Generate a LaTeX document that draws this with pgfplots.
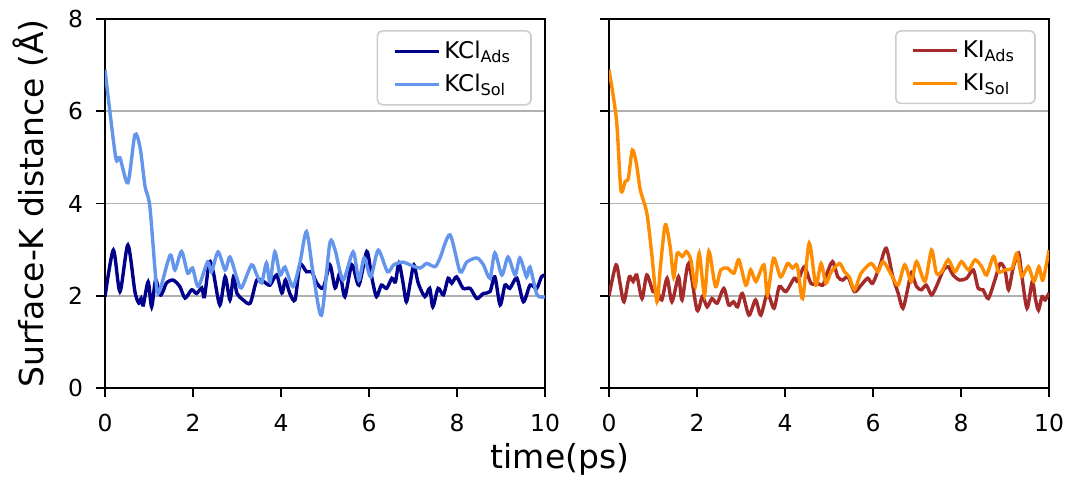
\documentclass[border=0pt]{standalone}
\usepackage{fontspec}
\setmainfont{DejaVu Sans}
\usepackage{pgfplots}
\pgfplotsset{compat=1.18}
\definecolor{kclads}{HTML}{00008B}
\definecolor{kclsol}{HTML}{6495ED}
\definecolor{kiads}{HTML}{A52A2A}
\definecolor{kisol}{HTML}{FF8C00}
\definecolor{gridgray}{HTML}{B0B0B0}
\definecolor{legframe}{HTML}{CCCCCC}

\pgfplotstableread{
t y
0 6.9
0.24 5.02
0.34 4.99
0.52 4.45
0.68 5.49
0.8 5.2
0.91 4.37
1.02 3.93
1.17 2.2
1.25 2.13
1.48 2.88
1.59 2.56
1.74 2.96
1.88 2.49
1.99 2.6
2.12 2.2
2.33 2.73
2.42 2.52
2.57 2.95
2.73 2.56
2.84 2.84
2.99 2.41
3.1 2.17
3.33 2.67
3.45 2.45
3.56 2.28
3.67 2.71
3.75 2.3
3.86 2.95
3.98 2.45
4.09 2.62
4.27 2.2
4.43 2.71
4.58 3.39
4.73 2.49
4.92 1.58
5.11 3.14
5.23 2.99
5.41 2.34
5.64 2.95
5.77 2.34
5.89 2.82
6.04 2.41
6.21 2.99
6.42 2.52
6.56 2.67
6.77 2.73
6.93 2.67
7.16 2.6
7.31 2.7
7.5 2.63
7.61 2.81
7.84 3.32
8.07 2.52
8.22 2.73
8.45 2.82
8.6 2.67
8.75 2.38
8.86 2.93
9.02 2.45
9.16 2.84
9.32 2.45
9.43 2.82
9.58 2.41
9.66 2.62
9.82 2.02
10 1.98
}\kclsoltab

\pgfplotstableread{
t y
0 1.98
0.19 2.99
0.34 2.09
0.52 3.1
0.68 2.09
0.77 1.84
0.82 1.94
0.87 1.8
0.98 2.3
1.06 1.76
1.15 2.34
1.25 2.02
1.32 2.1
1.4 2.28
1.55 2.34
1.7 2.2
1.82 1.95
1.97 2.13
2.08 2.05
2.2 2.17
2.26 1.98
2.37 2.73
2.46 2.52
2.61 1.8
2.73 2.41
2.84 1.91
2.92 2.41
3.0 2.05
3.14 1.91
3.3 1.84
3.45 2.34
3.6 2.31
3.75 2.23
3.9 2.45
4.02 2.06
4.1 2.34
4.2 2.05
4.32 1.91
4.43 2.67
4.58 2.52
4.7 2.52
4.81 2.28
4.96 2.17
5.11 2.67
5.23 2.17
5.34 2.49
5.45 1.98
5.61 2.67
5.77 2.23
5.95 2.96
6.06 2.41
6.17 1.98
6.28 2.23
6.4 2.16
6.52 2.38
6.6 2.3
6.68 2.71
6.77 2.3
6.85 1.87
6.94 2.3
7.02 2.67
7.12 2.27
7.27 1.98
7.38 2.16
7.45 1.76
7.57 2.16
7.69 2.02
7.8 2.38
7.88 2.27
7.99 2.41
8.14 2.16
8.3 2.16
8.45 1.94
8.6 2.05
8.75 2.09
8.86 2.41
8.98 1.8
9.09 2.23
9.2 2.16
9.36 2.38
9.51 1.87
9.66 2.23
9.81 2.16
9.92 2.41
10 2.45
}\kcladstab

\pgfplotstableread{
t y
0 6.9
0.17 5.81
0.27 4.3
0.37 4.48
0.44 4.55
0.53 5.16
0.62 4.88
0.71 4.3
0.86 3.79
0.97 2.92
1.09 1.87
1.17 2.65
1.28 3.54
1.39 3.06
1.47 2.4
1.55 2.92
1.67 2.85
1.76 2.96
1.86 2.78
1.96 2.2
2.05 2.92
2.17 2.02
2.27 2.96
2.42 2.2
2.54 2.56
2.69 2.6
2.84 2.49
2.95 2.78
3.11 2.23
3.22 2.56
3.34 2.31
3.52 2.67
3.6 2.02
3.74 2.81
3.9 2.41
4.06 2.7
4.17 2.6
4.28 2.65
4.4 1.94
4.55 3.14
4.7 2.23
4.82 2.7
4.93 2.27
5.05 2.52
5.24 2.7
5.35 2.52
5.46 2.41
5.58 2.13
5.73 2.49
5.96 2.7
6.11 2.52
6.23 2.74
6.42 2.45
6.57 2.23
6.72 2.67
6.87 2.31
6.99 2.74
7.18 2.31
7.33 2.99
7.44 2.49
7.56 2.52
7.71 2.78
7.86 2.52
8.01 2.74
8.17 2.56
8.32 2.78
8.47 2.63
8.58 2.45
8.74 2.85
8.85 2.52
9.0 2.56
9.16 2.6
9.27 2.92
9.38 2.42
9.53 2.63
9.66 2.31
9.77 2.63
9.86 2.34
10 2.99
}\kisoltab

\pgfplotstableread{
t y
0 2.0
0.16 2.67
0.25 2.27
0.34 1.87
0.46 2.41
0.55 2.31
0.63 2.45
0.75 1.94
0.86 2.45
1.0 2.09
1.1 2.09
1.2 1.91
1.32 2.38
1.43 1.87
1.58 2.41
1.66 1.91
1.81 2.7
2.0 1.69
2.12 1.98
2.23 1.76
2.34 1.94
2.46 1.84
2.61 2.16
2.72 1.8
2.83 1.87
2.92 1.76
3.03 2.05
3.18 1.58
3.33 1.91
3.45 1.58
3.6 2.05
3.75 1.73
3.87 2.2
4.02 2.09
4.21 2.38
4.29 2.31
4.44 2.63
4.59 2.27
4.74 2.27
4.86 2.23
4.94 2.45
5.08 2.74
5.2 2.41
5.31 2.34
5.43 2.41
5.58 2.09
5.73 2.23
5.88 2.38
5.99 2.27
6.15 2.63
6.3 3.03
6.45 2.41
6.57 2.06
6.68 1.73
6.8 2.2
6.87 2.49
6.99 2.2
7.1 2.13
7.21 2.23
7.33 2.02
7.44 2.2
7.6 2.56
7.71 2.63
7.82 2.45
7.97 2.34
8.13 2.38
8.28 2.56
8.39 2.16
8.5 2.13
8.62 1.94
8.77 2.34
8.89 2.7
9.0 2.56
9.08 2.13
9.19 2.63
9.31 2.92
9.38 2.45
9.5 1.73
9.62 2.31
9.69 1.94
9.76 1.69
9.84 1.98
9.91 1.91
10 2.06
}\kiadstab

\pgfplotsset{
  panel/.style={
    scale only axis,
    width=220pt, height=184.5pt,
    xmin=0, xmax=10, ymin=0, ymax=8,
    xtick={0,2,4,6,8,10}, ytick={0,2,4,6,8},
    tick align=outside,
    major tick length=4.5pt,
    xtick pos=bottom, ytick pos=left,
    axis line style={line width=0.9pt},
    every tick/.style={black, line width=0.9pt},
    ymajorgrids,
    major grid style={gridgray, line width=0.9pt},
    ticklabel style={font=\fontsize{11.7}{14}\selectfont},
    xticklabel style={yshift=-5pt},
    yticklabel style={xshift=-3pt},
    /pgf/number format/assume math mode=true,
    legend style={at={(0.97,0.97)}, anchor=north east,
      draw=legframe, line width=0.8pt, rounded corners=2.5pt,
      fill=white, fill opacity=0.8, text opacity=1,
      font=\fontsize{11.5}{13}\selectfont,
      inner xsep=8pt, inner ysep=3pt, row sep=2.5pt},
    legend cell align=left,
    legend image code/.code={\draw[##1, line width=1.5pt] (0pt,0pt) -- (22pt,0pt);},
  },
  series/.style={line width=1.7pt, smooth, tension=0.45, no markers},
}

\begin{document}
\begin{tikzpicture}
\begin{axis}[panel,
  ylabel={Surface-K distance (Å)},
  every axis y label/.style={at={(axis description cs:0,0.5)}, xshift=-37.5pt,
    rotate=90, anchor=center, font=\fontsize{16.5}{19}\selectfont},
]
\addplot[series, kclads] table[x=t, y=y] {\kcladstab};
\addlegendentry{KCl\textsubscript{Ads}}
\addplot[series, kclsol] table[x=t, y=y] {\kclsoltab};
\addlegendentry{KCl\textsubscript{Sol}}
\end{axis}
\begin{axis}[panel, at={(252pt,0pt)}, anchor=south west,
  yticklabels={}]
\addplot[series, kiads] table[x=t, y=y] {\kiadstab};
\addlegendentry{KI\textsubscript{Ads}}
\addplot[series, kisol] table[x=t, y=y] {\kisoltab};
\addlegendentry{KI\textsubscript{Sol}}
\end{axis}
\node[font=\fontsize{16.5}{19}\selectfont] at (227.5pt,-35.5pt) {time(ps)};
\pgfresetboundingbox
\useasboundingbox (-52.5pt,-45.5pt) rectangle (482pt,194pt);
\end{tikzpicture}
\end{document}
